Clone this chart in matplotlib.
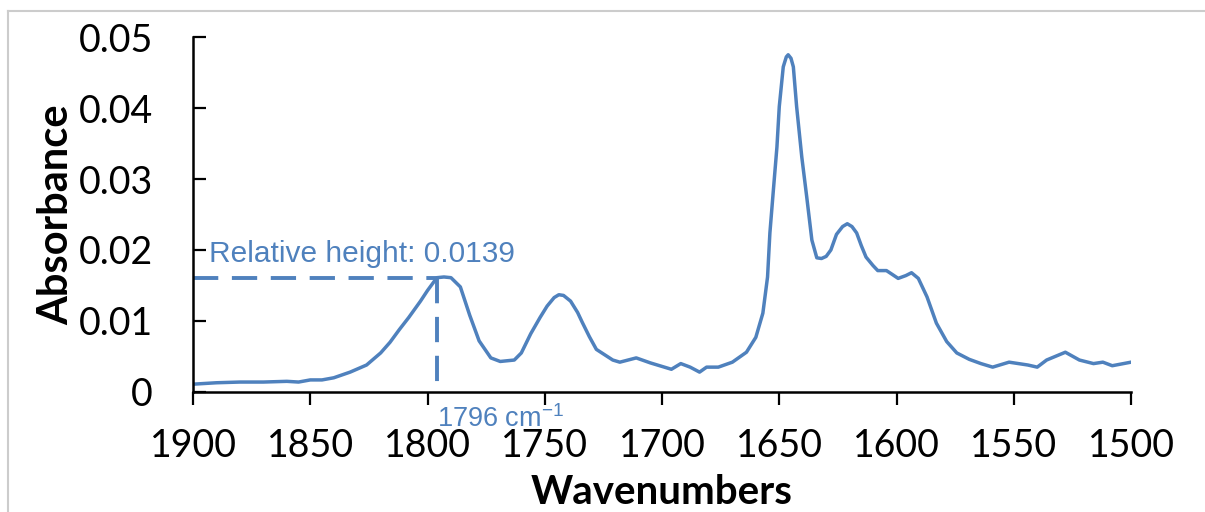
import matplotlib
matplotlib.use("Agg")
import matplotlib.pyplot as plt
from matplotlib.lines import Line2D

# Spectrum (wavenumber, absorbance)
wavenumbers = [1900, 1890, 1880, 1870, 1860, 1855, 1850, 1845, 1840, 1833, 1826, 1820,
               1816, 1812, 1808, 1803, 1800, 1796, 1793, 1790, 1786, 1782, 1778, 1773, 1769,
               1763, 1760, 1756, 1752, 1749, 1746, 1744, 1742, 1739, 1736, 1734, 1731, 1728,
               1721, 1718, 1711, 1705, 1700, 1696, 1692, 1688, 1684, 1681, 1676, 1670,
               1664, 1660, 1657, 1655, 1654, 1652.5, 1651, 1650, 1648.3, 1647, 1646.2, 1645,
               1644, 1642.6, 1640.4, 1638.3, 1636.1, 1634, 1632, 1630, 1628, 1625.6, 1623,
               1621, 1619, 1617, 1615, 1613, 1610, 1608, 1604.3, 1602, 1599.3, 1596,
               1593.6, 1590.7, 1587, 1583, 1578.6, 1574.3, 1569, 1564, 1559, 1552, 1544,
               1540, 1536, 1528, 1522, 1516, 1512, 1508, 1500]
absorbance = [0.0011, 0.0013, 0.0014, 0.0014, 0.0015, 0.0014, 0.0017, 0.0017, 0.0020, 0.0028, 0.0038, 0.0055,
              0.0070, 0.0088, 0.0105, 0.0128, 0.0143, 0.0161, 0.0162, 0.0161, 0.0148, 0.0108, 0.0072, 0.0048, 0.0043,
              0.0045, 0.0055, 0.0082, 0.0105, 0.0121, 0.0133, 0.0137, 0.0136, 0.0128, 0.0112, 0.0098, 0.0078, 0.0060,
              0.0045, 0.0042, 0.0048, 0.0041, 0.0036, 0.0032, 0.0040, 0.0035, 0.0028, 0.0035, 0.0035, 0.0042,
              0.0056, 0.0077, 0.0111, 0.0162, 0.0224, 0.0285, 0.0345, 0.0402, 0.0458, 0.0472, 0.0475, 0.0470,
              0.0458, 0.0402, 0.0331, 0.0275, 0.0214, 0.0189, 0.0188, 0.0191, 0.0200, 0.0222, 0.0233,
              0.0237, 0.0233, 0.0224, 0.0206, 0.0190, 0.0178, 0.0171, 0.0171, 0.0166, 0.0160, 0.0164,
              0.0168, 0.0160, 0.0134, 0.0097, 0.0071, 0.0055, 0.0046, 0.0040, 0.0035, 0.0042, 0.0038,
              0.0035, 0.0045, 0.0056, 0.0045, 0.0040, 0.0042, 0.0037, 0.0042]

peak_x = 1796
peak_y = 0.0161
x_ticks = [1900, 1850, 1800, 1750, 1700, 1650, 1600, 1550, 1500]
y_ticks = [0, 0.01, 0.02, 0.03, 0.04, 0.05]
y_tick_labels = ["0", "0.01", "0.02", "0.03", "0.04", "0.05"]

blue = "#4F81BD"
label_font = ["Lato", "DejaVu Sans"]

fig = plt.figure(figsize=(12.05, 5.12), dpi=100)
ax = fig.add_axes([0.1602, 0.2344, 0.7784, 0.6933])

ax.plot(wavenumbers, absorbance, color=blue, lw=2.5, solid_joinstyle="round")

# annotation lines
ax.plot([1900, peak_x], [peak_y, peak_y], color=blue, lw=2.8, dashes=(6.5, 3.5))
ax.plot([peak_x, peak_x], [peak_y, 0], color=blue, lw=2.8, dashes=(6.5, 3.5))
ax.text(1893, 0.0183, "Relative height: 0.0139", color=blue, fontsize=21.5,
        family="Liberation Sans", ha="left", va="baseline")
ax.text(peak_x, -0.0049, r"1796 cm$^{\mathregular{-1}}$", color=blue, fontsize=19.5,
        family="Liberation Sans", ha="left", va="baseline")

ax.set_xlim(1900, 1500)
ax.set_ylim(0, 0.05)
ax.set_xticks(x_ticks)
ax.set_xticklabels([str(v) for v in x_ticks], family=label_font, fontsize=27)
ax.set_yticks(y_ticks)
ax.set_yticklabels(y_tick_labels, family=label_font, fontsize=27)
ax.tick_params(axis="y", direction="in", length=9.5, width=1.6, pad=29)
ax.tick_params(axis="x", direction="out", length=9, width=1.6, pad=17)

for side in ["top", "right"]:
    ax.spines[side].set_visible(False)
for side in ["left", "bottom"]:
    ax.spines[side].set_linewidth(1.8)

ax.set_xlabel("Wavenumbers", family=label_font, fontsize=29, fontweight="bold", labelpad=7)
ax.set_ylabel("Absorbance", family=label_font, fontsize=30, fontweight="bold", labelpad=2)

# thin grey frame lines along the top and left of the figure
fig.add_artist(Line2D([8 / 1205, 1], [1 - 10.5 / 512, 1 - 10.5 / 512], color="#cccccc", lw=1.5,
                      transform=fig.transFigure))
fig.add_artist(Line2D([8 / 1205, 8 / 1205], [0, 1 - 10.5 / 512], color="#cccccc", lw=1.5,
                      transform=fig.transFigure))

fig.savefig("out.png", dpi=100)
